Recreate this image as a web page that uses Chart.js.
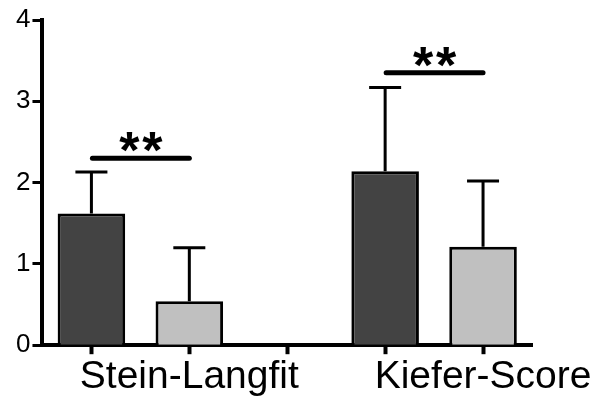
<!DOCTYPE html>
<html>
<head>
<meta charset="utf-8">
<script src="https://cdn.jsdelivr.net/npm/chart.js@4"></script>
<style>
  html, body { margin: 0; padding: 0; background: #fff; }
</style>
</head>
<body>
<canvas id="myChart" width="599" height="401"></canvas>
<script>
// one bar per category; the empty slot separates the two scores
var labels = ["", "Stein-Langfit", "", "", "Kiefer-Score"];
var means = [1.62, 0.54, null, 2.14, 1.21];
var errTop = [2.13, 1.20, null, 3.17, 2.02];
var barColors = ["#434343", "#c0c0c0", "#ffffff", "#434343", "#c0c0c0"];
var yTicks = [0, 1, 2, 3, 4];
// significance brackets: [from bar, to bar], height, text
var sigPairs = [[0, 1], [3, 4]];
var sigLevels = [2.30, 3.35];
var sigText = ["**", "**"];

var errorBars = {
    id: "errorBars",
    afterDatasetsDraw: function (chart) {
        var ctx = chart.ctx;
        var xs = chart.scales.x;
        var ys = chart.scales.y;
        ctx.save();
        ctx.strokeStyle = "#000";
        ctx.lineWidth = 3;
        for (var i = 0; i < means.length; i++) {
            if (means[i] === null) continue;
            var x = xs.getPixelForValue(i);
            var y0 = ys.getPixelForValue(means[i]);
            var y1 = ys.getPixelForValue(errTop[i]);
            ctx.beginPath();
            ctx.moveTo(x, y0);
            ctx.lineTo(x, y1);
            ctx.moveTo(x - 16, y1);
            ctx.lineTo(x + 16, y1);
            ctx.stroke();
        }
        ctx.lineWidth = 5;
        ctx.lineCap = "round";
        ctx.fillStyle = "#000";
        ctx.font = "bold 52px 'Liberation Sans', Arial, sans-serif";
        ctx.textAlign = "center";
        ctx.textBaseline = "alphabetic";
        for (var k = 0; k < sigPairs.length; k++) {
            var xa = xs.getPixelForValue(sigPairs[k][0]) + 1;
            var xb = xs.getPixelForValue(sigPairs[k][1]);
            var yl = ys.getPixelForValue(sigLevels[k]);
            ctx.beginPath();
            ctx.moveTo(xa, yl);
            ctx.lineTo(xb, yl);
            ctx.stroke();
            // spread the stars apart a little, like the original
            var chars = sigText[k].split("");
            var mid = (xa + xb) / 2;
            for (var c = 0; c < chars.length; c++) {
                ctx.fillText(chars[c], mid + (c - (chars.length - 1) / 2) * 23, yl + 10);
            }
        }
        ctx.restore();
    }
};

var ctx = document.getElementById("myChart").getContext("2d");
new Chart(ctx, {
    type: "bar",
    data: {
        labels: labels,
        datasets: [
            {
                data: means,
                backgroundColor: barColors,
                borderColor: "#000",
                borderWidth: 3,
                barPercentage: 0.69,
                categoryPercentage: 1.0,
            },
        ],
    },
    options: {
        responsive: false,
        animation: false,
        layout: {
            padding: { left: 14, top: 20, right: 67, bottom: 0 },
        },
        plugins: {
            legend: { display: false },
            tooltip: { enabled: false },
        },
        scales: {
            x: {
                offset: true,
                grid: {
                    offset: false,
                    drawOnChartArea: false,
                    drawTicks: true,
                    tickLength: 9,
                    tickWidth: 4,
                    tickColor: "#000",
                },
                border: { color: "#000", width: 4 },
                ticks: {
                    autoSkip: false,
                    maxRotation: 0,
                    minRotation: 0,
                    padding: 0,
                    color: "#000",
                    font: { family: "'Liberation Sans', Arial, sans-serif", size: 39 },
                },
            },
            y: {
                min: 0,
                max: 4,
                afterBuildTicks: function (axis) {
                    axis.ticks = yTicks.map(function (v) { return { value: v }; });
                },
                grid: {
                    drawOnChartArea: false,
                    drawTicks: true,
                    tickLength: 10,
                    tickWidth: 3,
                    tickColor: "#000",
                },
                border: { color: "#000", width: 4 },
                ticks: {
                    padding: 2,
                    color: "#000",
                    font: { family: "'Liberation Sans', Arial, sans-serif", size: 26 },
                },
            },
        },
    },
    plugins: [errorBars],
});
</script>
</body>
</html>
